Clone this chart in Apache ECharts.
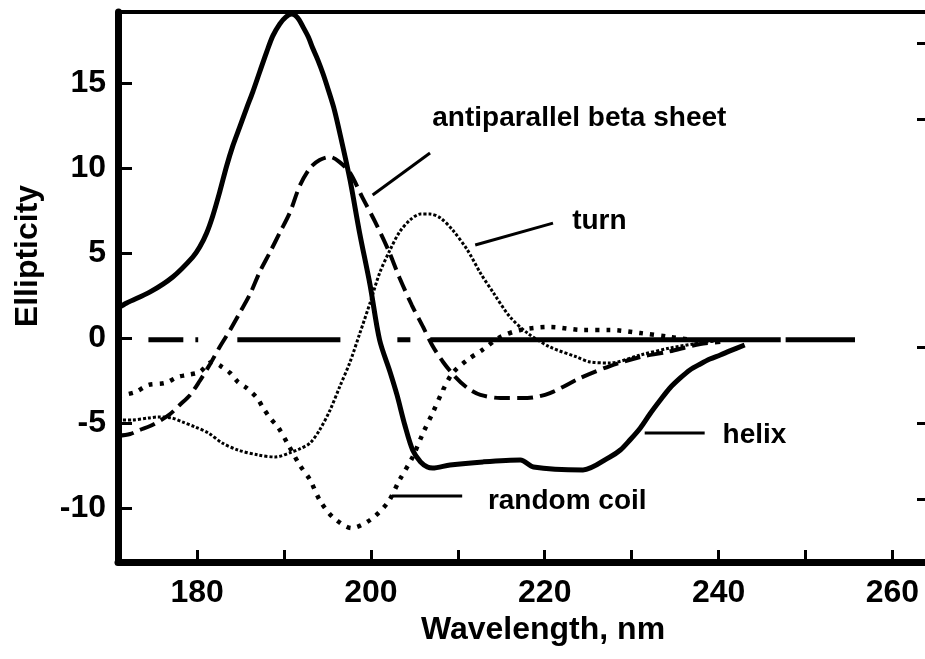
<!DOCTYPE html>
<html>
<head>
<meta charset="utf-8">
<script src="https://cdn.jsdelivr.net/npm/echarts@6/dist/echarts.min.js"></script>
<style>
html,body{margin:0;padding:0;background:#fff;}
#chart{width:925px;height:659px;}
</style>
</head>
<body>
<div id="chart"></div>
<script>
// ---- data (wavelength nm, ellipticity) ----
const helix = [
  [170.9,1.76],[171.9,2.06],[174.6,2.71],[177.2,3.59],[179.5,4.76],[180.3,5.35],[181.1,6.18],
  [181.8,7.18],[182.6,8.59],[183.4,10.12],[184.1,11.29],[184.9,12.41],[185.7,13.53],
  [186.4,14.47],[187.2,15.65],[188.0,16.82],[188.7,17.76],[189.5,18.47],[190.2,18.88],
  [190.9,19.06],[191.6,18.82],[192.2,18.29],[192.8,17.71],[193.3,17.06],[193.9,16.35],
  [194.5,15.53],[195.1,14.59],[195.8,13.41],[196.6,11.65],[197.6,9.29],[198.7,6.18],
  [199.9,3.12],[201.0,-0.12],[202.2,-2.0],[203.0,-3.35],[203.9,-5.12],[204.8,-6.59],
  [205.7,-7.29],[206.5,-7.59],[207.1,-7.65],[209.1,-7.47],[212.9,-7.29],[217.2,-7.18],
  [218.7,-7.59],[224.4,-7.76],[227.5,-7.0],[228.7,-6.59],[229.8,-6.0],[231.0,-5.29],
  [232.1,-4.47],[233.3,-3.65],[234.4,-2.94],[235.6,-2.35],[236.7,-1.88],[237.9,-1.53],
  [239.0,-1.24],[240.2,-1.0],[241.3,-0.76],[243.0,-0.41]
];
const betaSheet = [
  [170.9,-5.76],[172.3,-5.65],[173.4,-5.41],[174.6,-5.18],[175.7,-4.88],[176.9,-4.47],
  [178.0,-3.94],[179.2,-3.35],[180.3,-2.53],[181.5,-1.53],[182.6,-0.53],[183.8,0.47],
  [184.9,1.47],[186.1,2.59],[187.2,3.88],[188.4,5.06],[189.5,6.18],[190.7,7.41],
  [191.8,8.94],[193.0,10.0],[194.1,10.47],[195.3,10.65],[196.4,10.35],[197.6,9.71],
  [199.0,8.29],[200.5,6.82],[202.0,5.18],[203.3,3.53],[204.7,1.94],[206.0,0.65],
  [207.1,-0.47],[208.3,-1.41],[209.7,-2.29],[211.1,-2.94],[212.6,-3.35],[214.9,-3.53],
  [218.0,-3.53],[220.6,-3.24],[224.1,-2.35],[227.5,-1.65],[231.0,-1.12],[234.1,-0.82],
  [237.9,-0.35],[240.2,-0.24]
];
const turn = [
  [170.9,-4.82],[172.5,-4.82],[174.4,-4.71],[175.5,-4.65],[177.1,-4.71],[178.3,-4.94],
  [179.8,-5.24],[181.3,-5.59],[182.9,-6.18],[184.7,-6.59],[187.0,-6.88],[189.0,-7.0],
  [190.9,-6.71],[191.8,-6.53],[193.0,-6.18],[194.1,-5.41],[195.3,-4.24],[196.4,-2.88],
  [197.6,-1.41],[198.7,0.24],[199.9,2.06],[201.0,3.82],[202.2,5.18],[203.3,6.24],
  [204.5,6.94],[205.7,7.29],[206.8,7.29],[208.0,7.06],[209.4,6.35],[211.1,5.18],
  [212.6,3.82],[214.1,2.65],[216.0,1.24],[218.0,0.29],[220.6,-0.53],[223.7,-1.12],
  [225.2,-1.41],[227.5,-1.47],[231.0,-1.0],[234.4,-0.59],[237.9,-0.29],[240.0,-0.15]
];
const randomCoil = [
  [170.9,-3.41],[172.9,-3.18],[174.4,-2.76],[176.3,-2.65],[177.8,-2.29],[178.8,-2.18],
  [180.3,-2.0],[181.7,-1.41],[182.9,-1.71],[183.8,-2.06],[184.7,-2.59],[185.7,-2.94],
  [186.9,-3.53],[187.6,-4.12],[188.4,-4.71],[189.3,-5.24],[190.5,-6.29],[191.8,-7.47],
  [193.0,-8.35],[194.1,-9.53],[195.6,-10.53],[197.8,-11.18],[199.9,-10.71],[201.9,-9.71],
  [203.3,-8.35],[204.8,-7.0],[206.0,-5.59],[207.1,-4.41],[208.3,-3.06],[209.4,-2.06],
  [211.1,-1.29],[212.8,-0.71],[214.9,0.06],[217.2,0.47],[220.6,0.65],[224.4,0.47],
  [227.5,0.47],[231.0,0.29],[234.4,0.06],[237.9,-0.18]
];
const baseline = [[174.4,-0.1],[255.7,-0.1]];

const xTickValues = [180,190,200,210,220,230,240,250,260];
const xTickLabels = [180,200,220,240,260];
const yTickLabels = [-10,-5,0,5,10,15];
const rightTickValues = [0,1,2,5,6];

const annotations = [
  {name:'antiparallel beta sheet', at:[207.0,12.9], line:[[200.2,8.41],[206.8,10.88]]},
  {name:'turn', at:[223.1,6.85], line:[[212.0,5.47],[220.95,6.76]]},
  {name:'helix', at:[240.4,-5.75], line:[[231.5,-5.59],[238.4,-5.59]]},
  {name:'random coil', at:[213.4,-9.6], line:[[202.4,-9.29],[210.5,-9.29]]}
];

const xMin = 170.9, xMax = 263.75, yMin = -13.18, yMax = 19.18;
const FONT = '"Liberation Sans", Arial, Helvetica, sans-serif';

const chart = echarts.init(document.getElementById('chart'), null, {renderer:'canvas'});

function curve(name, data, width, type, z){
  return {
    name, type:'line', data, showSymbol:false, symbol:'none',
    smooth:0.3, z: z||3,
    lineStyle:{color:'#000', width, type, cap:'butt'},
    silent:true
  };
}

const series = [
  curve('baseline', baseline, 5, [35,12,3,39,103,57,13,20,350,5,70], 2),
  curve('helix', helix, 5, 'solid', 4),
  curve('antiparallel beta sheet', betaSheet, 4, [16,7], 3),
  curve('turn', turn, 3, [3,2], 3),
  curve('random coil', randomCoil, 4.5, [4,7], 3)
];
annotations.forEach(a => {
  series.push({
    type:'line', data:a.line, showSymbol:false, symbol:'none', silent:true, z:5,
    lineStyle:{color:'#000', width:3}
  });
});
series.push({
  type:'scatter', silent:true, z:6, symbol:'circle', symbolSize:1,
  itemStyle:{color:'rgba(0,0,0,0)', opacity:1},
  data: annotations.map(a => ({name:a.name, value:a.at})),
  label:{
    show:true, position:'right', distance:0, formatter:'{b}', opacity:1,
    fontFamily:FONT, fontWeight:'bold', fontSize:28, color:'#000'
  },
  labelLayout:{hideOverlap:false}
});

chart.setOption({
  animation:false,
  backgroundColor:'#fff',
  grid:{left:118, right:0, top:12, bottom:97, containLabel:false, outerBoundsMode:'none'},
  xAxis:[{
    type:'value', min:xMin, max:xMax, position:'bottom',
    name:'Wavelength, nm', nameLocation:'middle', nameGap:38,
    nameTextStyle:{fontFamily:FONT, fontWeight:'bold', fontSize:32, color:'#000', padding:[0,0,0,43]},
    axisLine:{show:true, onZero:false, lineStyle:{color:'#000', width:7}},
    axisTick:{show:true, inside:true, length:12, lineStyle:{color:'#000', width:3}, customValues:xTickValues},
    axisLabel:{show:true, margin:15, fontFamily:FONT, fontWeight:'bold', fontSize:32, color:'#000', customValues:xTickLabels},
    splitLine:{show:false}
  },{
    type:'value', min:xMin, max:xMax, position:'top',
    axisLine:{show:true, onZero:false, lineStyle:{color:'#000', width:4}},
    axisTick:{show:false}, axisLabel:{show:false}, splitLine:{show:false}
  }],
  yAxis:[{
    type:'value', min:yMin, max:yMax, position:'left',
    name:'Ellipticity', nameLocation:'middle', nameGap:74, nameRotate:90,
    nameTextStyle:{fontFamily:FONT, fontWeight:'bold', fontSize:32, color:'#000', padding:[0,0,0,62]},
    axisLine:{show:true, onZero:false, lineStyle:{color:'#000', width:7}},
    axisTick:{show:true, inside:true, length:14, lineStyle:{color:'#000', width:3}, customValues:yTickLabels},
    axisLabel:{show:true, margin:12, fontFamily:FONT, fontWeight:'bold', fontSize:32, color:'#000', customValues:yTickLabels},
    splitLine:{show:false}
  },{
    type:'value', min:-0.829, max:6.408, position:'right',
    axisLine:{show:false},
    axisTick:{show:true, inside:true, length:8, lineStyle:{color:'#000', width:3}, customValues:rightTickValues},
    axisLabel:{show:false}, splitLine:{show:false}
  }],
  series
});
</script>
</body>
</html>
